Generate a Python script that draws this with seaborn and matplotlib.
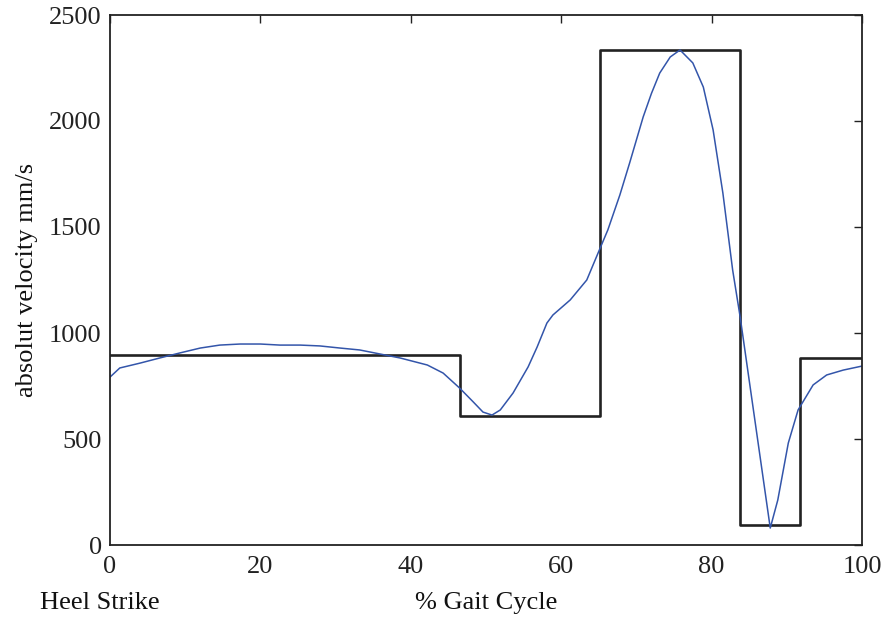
import numpy as np
import pandas as pd
import matplotlib
matplotlib.use('Agg')
import matplotlib.pyplot as plt
import seaborn as sns

# blue curve: absolute velocity
gait_pct = [0, 1.3, 4, 6.6, 9.3, 12, 14.6, 17.3, 20, 22.6, 25.3, 27.9, 30.6, 33.2,
            35.9, 38.6, 42.2, 44.3, 46.5, 48.3, 49.6, 50.8, 51.9, 53.6, 55.6, 56.8,
            58.1, 58.9, 61.2, 63.4, 64.9, 66.2, 67.8, 69.1, 70.9, 72.0, 73.1, 74.5,
            75.8, 77.5, 78.9, 80.2, 81.5, 82.8, 83.8, 87.8, 88.8, 90.2, 91.5, 93.5,
            95.3, 97.5, 100]
velocity = [792, 835, 858, 882, 906, 929, 943, 948, 948, 943, 943, 939, 929, 920,
            901, 882, 849, 811, 740, 675, 627, 613, 637, 717, 840, 934,
            1047, 1085, 1156, 1250, 1377, 1486, 1651, 1802, 2019, 2130, 2226, 2302,
            2335, 2274, 2160, 1958, 1660, 1297, 1075, 80, 212, 481, 637, 755,
            802, 825, 844]

# black step: mean velocity per phase
phase_edges = [0, 46.5, 65.2, 83.8, 91.8, 100]
phase_means = [895, 608, 2335, 94, 882]

sns.set_style('white')
plt.rcParams['font.family'] = ['Liberation Serif', 'DejaVu Serif']

fig = plt.figure(figsize=(8.85, 6.18), dpi=100)
ax = fig.add_axes([110/885, 73/618, 752/885, 530/618])

step_df = pd.DataFrame({'x': phase_edges, 'y': phase_means + [phase_means[-1]]})
sns.lineplot(data=step_df, x='x', y='y', drawstyle='steps-post', color='#222222',
             linewidth=1.9, ax=ax, sort=False)

curve_df = pd.DataFrame({'x': gait_pct, 'y': velocity})
sns.lineplot(data=curve_df, x='x', y='y', color='#3355aa', linewidth=1.1, ax=ax, sort=False)

ax.set_xlim(0, 100)
ax.set_ylim(0, 2500)
ax.set_xticks([0, 20, 40, 60, 80, 100])
ax.set_yticks([0, 500, 1000, 1500, 2000, 2500])
ax.tick_params(direction='in', length=6, width=1, labelsize=19, top=True, right=True,
               colors='#222222', pad=6)
ax.tick_params(axis='x', pad=8)
for s in ax.spines.values():
    s.set_color('#222222')
    s.set_linewidth(1.3)

ax.set_xlabel('% Gait Cycle', fontsize=19, color='#111111', va='center')
ax.xaxis.set_label_coords(0.5, (545 - 603) / 530)
ax.set_ylabel('absolut velocity mm/s', fontsize=19, labelpad=8, color='#111111')
fig.text(40/885, 1 - 603/618, 'Heel Strike', fontsize=19, va='center', ha='left',
         color='#111111')

fig.savefig('out.png', dpi=100)
